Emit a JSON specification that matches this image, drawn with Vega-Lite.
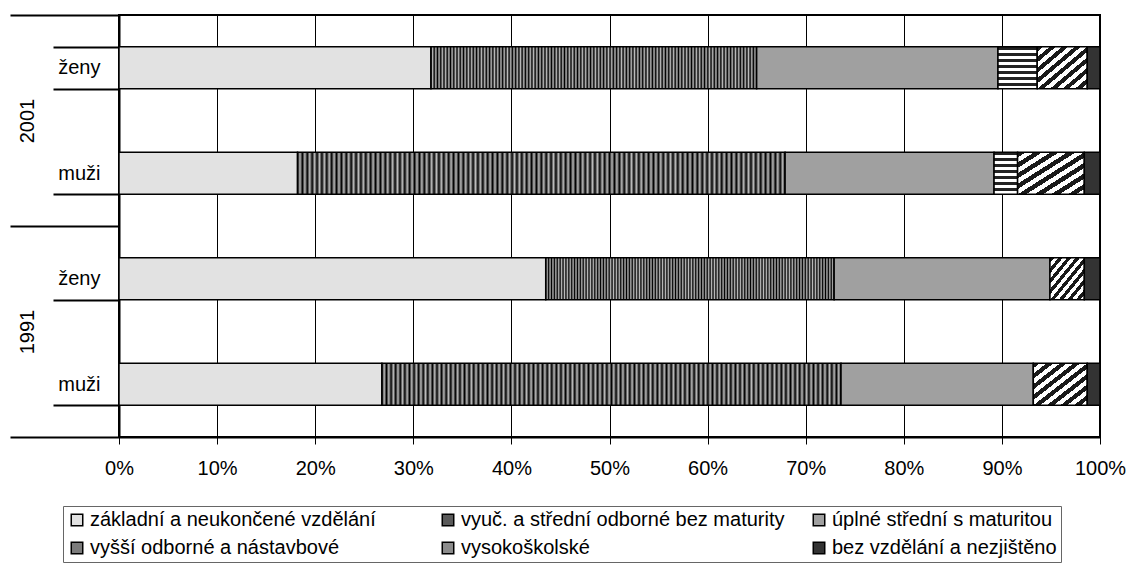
{
  "$schema": "https://vega.github.io/schema/vega-lite/v6.json",
  "width": 981,
  "height": 422,
  "autosize": {"type": "none"},
  "padding": {"left": 119, "top": 15, "right": 31, "bottom": 131},
  "background": "white",
  "config": {"font": "Liberation Sans", "view": {"stroke": "black", "strokeWidth": 2}},
  "data": {
    "values": [
      {"year": "2001", "group": "2001 ženy", "edu": "základní a neukončené vzdělání", "k": 1, "value": 31.8},
      {"year": "2001", "group": "2001 ženy", "edu": "vyuč. a střední odborné bez maturity", "k": 2, "value": 33.2},
      {"year": "2001", "group": "2001 ženy", "edu": "úplné střední s maturitou", "k": 3, "value": 24.6},
      {"year": "2001", "group": "2001 ženy", "edu": "vyšší odborné a nástavbové", "k": 4, "value": 4.0},
      {"year": "2001", "group": "2001 ženy", "edu": "vysokoškolské", "k": 5, "value": 5.1},
      {"year": "2001", "group": "2001 ženy", "edu": "bez vzdělání a nezjištěno", "k": 6, "value": 1.3},
      {"year": "2001", "group": "2001 muži", "edu": "základní a neukončené vzdělání", "k": 1, "value": 18.2},
      {"year": "2001", "group": "2001 muži", "edu": "vyuč. a střední odborné bez maturity", "k": 2, "value": 49.7},
      {"year": "2001", "group": "2001 muži", "edu": "úplné střední s maturitou", "k": 3, "value": 21.3},
      {"year": "2001", "group": "2001 muži", "edu": "vyšší odborné a nástavbové", "k": 4, "value": 2.4},
      {"year": "2001", "group": "2001 muži", "edu": "vysokoškolské", "k": 5, "value": 6.8},
      {"year": "2001", "group": "2001 muži", "edu": "bez vzdělání a nezjištěno", "k": 6, "value": 1.6},
      {"year": "1991", "group": "1991 ženy", "edu": "základní a neukončené vzdělání", "k": 1, "value": 43.5},
      {"year": "1991", "group": "1991 ženy", "edu": "vyuč. a střední odborné bez maturity", "k": 2, "value": 29.4},
      {"year": "1991", "group": "1991 ženy", "edu": "úplné střední s maturitou", "k": 3, "value": 22.0},
      {"year": "1991", "group": "1991 ženy", "edu": "vysokoškolské", "k": 5, "value": 3.5},
      {"year": "1991", "group": "1991 ženy", "edu": "bez vzdělání a nezjištěno", "k": 6, "value": 1.6},
      {"year": "1991", "group": "1991 muži", "edu": "základní a neukončené vzdělání", "k": 1, "value": 26.8},
      {"year": "1991", "group": "1991 muži", "edu": "vyuč. a střední odborné bez maturity", "k": 2, "value": 46.8},
      {"year": "1991", "group": "1991 muži", "edu": "úplné střední s maturitou", "k": 3, "value": 19.6},
      {"year": "1991", "group": "1991 muži", "edu": "vysokoškolské", "k": 5, "value": 5.5},
      {"year": "1991", "group": "1991 muži", "edu": "bez vzdělání a nezjištěno", "k": 6, "value": 1.3}
    ]
  },
  "layer": [
    {
      "mark": {"type": "bar", "stroke": "black", "strokeWidth": 1.5},
      "encoding": {
        "y": {
          "field": "group", "type": "nominal",
          "sort": ["2001 ženy", "2001 muži", "1991 ženy", "1991 muži"],
          "scale": {"paddingInner": 0.6, "paddingOuter": 0.3},
          "axis": {
            "orient": "left", "title": null,
            "labelExpr": "split(datum.label, ' ')[1]",
            "labelFontSize": 20, "labelColor": "black", "labelPadding": -47,
            "ticks": true, "tickBand": "extent", "tickSize": 66, "tickWidth": 2, "tickColor": "black",
            "domainColor": "black", "domainWidth": 2
          }
        },
        "x": {
          "field": "value", "type": "quantitative", "stack": "normalize",
          "scale": {"domain": [0, 1]},
          "axis": {
            "title": null, "format": ".0%",
            "values": [0, 0.1, 0.2, 0.3, 0.4, 0.5, 0.6, 0.7, 0.8, 0.9, 1],
            "grid": true, "gridColor": "black", "gridWidth": 1,
            "tickSize": 7, "tickColor": "black", "tickWidth": 1,
            "domainColor": "black", "domainWidth": 2, "labelFlush": false,
            "labelFontSize": 20, "labelColor": "black", "labelPadding": 14
          }
        },
        "color": {
          "condition": [
            {
              "test": "datum.edu === 'vyuč. a střední odborné bez maturity'",
              "value": {
                "gradient": "linear", "x1": 0, "y1": 0, "x2": 1, "y2": 0,
                "stops": [
                  {"offset": 0, "color": "#000"}, {"offset": 0.005, "color": "#bbb"}, {"offset": 0.01, "color": "#000"}, {"offset": 0.015, "color": "#bbb"}, {"offset": 0.02, "color": "#000"}, {"offset": 0.025, "color": "#bbb"}, {"offset": 0.03, "color": "#000"}, {"offset": 0.035, "color": "#bbb"}, {"offset": 0.04, "color": "#000"}, {"offset": 0.045, "color": "#bbb"},
                  {"offset": 0.05, "color": "#000"}, {"offset": 0.055, "color": "#bbb"}, {"offset": 0.06, "color": "#000"}, {"offset": 0.065, "color": "#bbb"}, {"offset": 0.07, "color": "#000"}, {"offset": 0.075, "color": "#bbb"}, {"offset": 0.08, "color": "#000"}, {"offset": 0.085, "color": "#bbb"}, {"offset": 0.09, "color": "#000"}, {"offset": 0.095, "color": "#bbb"},
                  {"offset": 0.1, "color": "#000"}, {"offset": 0.105, "color": "#bbb"}, {"offset": 0.11, "color": "#000"}, {"offset": 0.115, "color": "#bbb"}, {"offset": 0.12, "color": "#000"}, {"offset": 0.125, "color": "#bbb"}, {"offset": 0.13, "color": "#000"}, {"offset": 0.135, "color": "#bbb"}, {"offset": 0.14, "color": "#000"}, {"offset": 0.145, "color": "#bbb"},
                  {"offset": 0.15, "color": "#000"}, {"offset": 0.155, "color": "#bbb"}, {"offset": 0.16, "color": "#000"}, {"offset": 0.165, "color": "#bbb"}, {"offset": 0.17, "color": "#000"}, {"offset": 0.175, "color": "#bbb"}, {"offset": 0.18, "color": "#000"}, {"offset": 0.185, "color": "#bbb"}, {"offset": 0.19, "color": "#000"}, {"offset": 0.195, "color": "#bbb"},
                  {"offset": 0.2, "color": "#000"}, {"offset": 0.205, "color": "#bbb"}, {"offset": 0.21, "color": "#000"}, {"offset": 0.215, "color": "#bbb"}, {"offset": 0.22, "color": "#000"}, {"offset": 0.225, "color": "#bbb"}, {"offset": 0.23, "color": "#000"}, {"offset": 0.235, "color": "#bbb"}, {"offset": 0.24, "color": "#000"}, {"offset": 0.245, "color": "#bbb"},
                  {"offset": 0.25, "color": "#000"}, {"offset": 0.255, "color": "#bbb"}, {"offset": 0.26, "color": "#000"}, {"offset": 0.265, "color": "#bbb"}, {"offset": 0.27, "color": "#000"}, {"offset": 0.275, "color": "#bbb"}, {"offset": 0.28, "color": "#000"}, {"offset": 0.285, "color": "#bbb"}, {"offset": 0.29, "color": "#000"}, {"offset": 0.295, "color": "#bbb"},
                  {"offset": 0.3, "color": "#000"}, {"offset": 0.305, "color": "#bbb"}, {"offset": 0.31, "color": "#000"}, {"offset": 0.315, "color": "#bbb"}, {"offset": 0.32, "color": "#000"}, {"offset": 0.325, "color": "#bbb"}, {"offset": 0.33, "color": "#000"}, {"offset": 0.335, "color": "#bbb"}, {"offset": 0.34, "color": "#000"}, {"offset": 0.345, "color": "#bbb"},
                  {"offset": 0.35, "color": "#000"}, {"offset": 0.355, "color": "#bbb"}, {"offset": 0.36, "color": "#000"}, {"offset": 0.365, "color": "#bbb"}, {"offset": 0.37, "color": "#000"}, {"offset": 0.375, "color": "#bbb"}, {"offset": 0.38, "color": "#000"}, {"offset": 0.385, "color": "#bbb"}, {"offset": 0.39, "color": "#000"}, {"offset": 0.395, "color": "#bbb"},
                  {"offset": 0.4, "color": "#000"}, {"offset": 0.405, "color": "#bbb"}, {"offset": 0.41, "color": "#000"}, {"offset": 0.415, "color": "#bbb"}, {"offset": 0.42, "color": "#000"}, {"offset": 0.425, "color": "#bbb"}, {"offset": 0.43, "color": "#000"}, {"offset": 0.435, "color": "#bbb"}, {"offset": 0.44, "color": "#000"}, {"offset": 0.445, "color": "#bbb"},
                  {"offset": 0.45, "color": "#000"}, {"offset": 0.455, "color": "#bbb"}, {"offset": 0.46, "color": "#000"}, {"offset": 0.465, "color": "#bbb"}, {"offset": 0.47, "color": "#000"}, {"offset": 0.475, "color": "#bbb"}, {"offset": 0.48, "color": "#000"}, {"offset": 0.485, "color": "#bbb"}, {"offset": 0.49, "color": "#000"}, {"offset": 0.495, "color": "#bbb"},
                  {"offset": 0.5, "color": "#000"}, {"offset": 0.505, "color": "#bbb"}, {"offset": 0.51, "color": "#000"}, {"offset": 0.515, "color": "#bbb"}, {"offset": 0.52, "color": "#000"}, {"offset": 0.525, "color": "#bbb"}, {"offset": 0.53, "color": "#000"}, {"offset": 0.535, "color": "#bbb"}, {"offset": 0.54, "color": "#000"}, {"offset": 0.545, "color": "#bbb"},
                  {"offset": 0.55, "color": "#000"}, {"offset": 0.555, "color": "#bbb"}, {"offset": 0.56, "color": "#000"}, {"offset": 0.565, "color": "#bbb"}, {"offset": 0.57, "color": "#000"}, {"offset": 0.575, "color": "#bbb"}, {"offset": 0.58, "color": "#000"}, {"offset": 0.585, "color": "#bbb"}, {"offset": 0.59, "color": "#000"}, {"offset": 0.595, "color": "#bbb"},
                  {"offset": 0.6, "color": "#000"}, {"offset": 0.605, "color": "#bbb"}, {"offset": 0.61, "color": "#000"}, {"offset": 0.615, "color": "#bbb"}, {"offset": 0.62, "color": "#000"}, {"offset": 0.625, "color": "#bbb"}, {"offset": 0.63, "color": "#000"}, {"offset": 0.635, "color": "#bbb"}, {"offset": 0.64, "color": "#000"}, {"offset": 0.645, "color": "#bbb"},
                  {"offset": 0.65, "color": "#000"}, {"offset": 0.655, "color": "#bbb"}, {"offset": 0.66, "color": "#000"}, {"offset": 0.665, "color": "#bbb"}, {"offset": 0.67, "color": "#000"}, {"offset": 0.675, "color": "#bbb"}, {"offset": 0.68, "color": "#000"}, {"offset": 0.685, "color": "#bbb"}, {"offset": 0.69, "color": "#000"}, {"offset": 0.695, "color": "#bbb"},
                  {"offset": 0.7, "color": "#000"}, {"offset": 0.705, "color": "#bbb"}, {"offset": 0.71, "color": "#000"}, {"offset": 0.715, "color": "#bbb"}, {"offset": 0.72, "color": "#000"}, {"offset": 0.725, "color": "#bbb"}, {"offset": 0.73, "color": "#000"}, {"offset": 0.735, "color": "#bbb"}, {"offset": 0.74, "color": "#000"}, {"offset": 0.745, "color": "#bbb"},
                  {"offset": 0.75, "color": "#000"}, {"offset": 0.755, "color": "#bbb"}, {"offset": 0.76, "color": "#000"}, {"offset": 0.765, "color": "#bbb"}, {"offset": 0.77, "color": "#000"}, {"offset": 0.775, "color": "#bbb"}, {"offset": 0.78, "color": "#000"}, {"offset": 0.785, "color": "#bbb"}, {"offset": 0.79, "color": "#000"}, {"offset": 0.795, "color": "#bbb"},
                  {"offset": 0.8, "color": "#000"}, {"offset": 0.805, "color": "#bbb"}, {"offset": 0.81, "color": "#000"}, {"offset": 0.815, "color": "#bbb"}, {"offset": 0.82, "color": "#000"}, {"offset": 0.825, "color": "#bbb"}, {"offset": 0.83, "color": "#000"}, {"offset": 0.835, "color": "#bbb"}, {"offset": 0.84, "color": "#000"}, {"offset": 0.845, "color": "#bbb"},
                  {"offset": 0.85, "color": "#000"}, {"offset": 0.855, "color": "#bbb"}, {"offset": 0.86, "color": "#000"}, {"offset": 0.865, "color": "#bbb"}, {"offset": 0.87, "color": "#000"}, {"offset": 0.875, "color": "#bbb"}, {"offset": 0.88, "color": "#000"}, {"offset": 0.885, "color": "#bbb"}, {"offset": 0.89, "color": "#000"}, {"offset": 0.895, "color": "#bbb"},
                  {"offset": 0.9, "color": "#000"}, {"offset": 0.905, "color": "#bbb"}, {"offset": 0.91, "color": "#000"}, {"offset": 0.915, "color": "#bbb"}, {"offset": 0.92, "color": "#000"}, {"offset": 0.925, "color": "#bbb"}, {"offset": 0.93, "color": "#000"}, {"offset": 0.935, "color": "#bbb"}, {"offset": 0.94, "color": "#000"}, {"offset": 0.945, "color": "#bbb"},
                  {"offset": 0.95, "color": "#000"}, {"offset": 0.955, "color": "#bbb"}, {"offset": 0.96, "color": "#000"}, {"offset": 0.965, "color": "#bbb"}, {"offset": 0.97, "color": "#000"}, {"offset": 0.975, "color": "#bbb"}, {"offset": 0.98, "color": "#000"}, {"offset": 0.985, "color": "#bbb"}, {"offset": 0.99, "color": "#000"}, {"offset": 0.995, "color": "#bbb"},
                  {"offset": 1, "color": "#000"}
                ]
              }
            },
            {
              "test": "datum.edu === 'vyšší odborné a nástavbové'",
              "value": {
                "gradient": "linear", "x1": 0, "y1": 0, "x2": 0, "y2": 1,
                "stops": [
                  {"offset": 0, "color": "#222222"}, {"offset": 0.0714, "color": "#222222"},
                  {"offset": 0.0714, "color": "#ffffff"}, {"offset": 0.1429, "color": "#ffffff"},
                  {"offset": 0.1429, "color": "#222222"}, {"offset": 0.2143, "color": "#222222"},
                  {"offset": 0.2143, "color": "#ffffff"}, {"offset": 0.2857, "color": "#ffffff"},
                  {"offset": 0.2857, "color": "#222222"}, {"offset": 0.3571, "color": "#222222"},
                  {"offset": 0.3571, "color": "#ffffff"}, {"offset": 0.4286, "color": "#ffffff"},
                  {"offset": 0.4286, "color": "#222222"}, {"offset": 0.5, "color": "#222222"},
                  {"offset": 0.5, "color": "#ffffff"}, {"offset": 0.5714, "color": "#ffffff"},
                  {"offset": 0.5714, "color": "#222222"}, {"offset": 0.6429, "color": "#222222"},
                  {"offset": 0.6429, "color": "#ffffff"}, {"offset": 0.7143, "color": "#ffffff"},
                  {"offset": 0.7143, "color": "#222222"}, {"offset": 0.7857, "color": "#222222"},
                  {"offset": 0.7857, "color": "#ffffff"}, {"offset": 0.8571, "color": "#ffffff"},
                  {"offset": 0.8571, "color": "#222222"}, {"offset": 0.9286, "color": "#222222"},
                  {"offset": 0.9286, "color": "#ffffff"}, {"offset": 1, "color": "#ffffff"}
                ]
              }
            },
            {
              "test": "datum.edu === 'vysokoškolské'",
              "value": {
                "gradient": "linear", "x1": 0, "y1": 0, "x2": 1, "y2": 1,
                "stops": [
                  {"offset": 0, "color": "#1a1a1a"}, {"offset": 0.0625, "color": "#1a1a1a"},
                  {"offset": 0.0625, "color": "#ffffff"}, {"offset": 0.125, "color": "#ffffff"},
                  {"offset": 0.125, "color": "#1a1a1a"}, {"offset": 0.1875, "color": "#1a1a1a"},
                  {"offset": 0.1875, "color": "#ffffff"}, {"offset": 0.25, "color": "#ffffff"},
                  {"offset": 0.25, "color": "#1a1a1a"}, {"offset": 0.3125, "color": "#1a1a1a"},
                  {"offset": 0.3125, "color": "#ffffff"}, {"offset": 0.375, "color": "#ffffff"},
                  {"offset": 0.375, "color": "#1a1a1a"}, {"offset": 0.4375, "color": "#1a1a1a"},
                  {"offset": 0.4375, "color": "#ffffff"}, {"offset": 0.5, "color": "#ffffff"},
                  {"offset": 0.5, "color": "#1a1a1a"}, {"offset": 0.5625, "color": "#1a1a1a"},
                  {"offset": 0.5625, "color": "#ffffff"}, {"offset": 0.625, "color": "#ffffff"},
                  {"offset": 0.625, "color": "#1a1a1a"}, {"offset": 0.6875, "color": "#1a1a1a"},
                  {"offset": 0.6875, "color": "#ffffff"}, {"offset": 0.75, "color": "#ffffff"},
                  {"offset": 0.75, "color": "#1a1a1a"}, {"offset": 0.8125, "color": "#1a1a1a"},
                  {"offset": 0.8125, "color": "#ffffff"}, {"offset": 0.875, "color": "#ffffff"},
                  {"offset": 0.875, "color": "#1a1a1a"}, {"offset": 0.9375, "color": "#1a1a1a"},
                  {"offset": 0.9375, "color": "#ffffff"}, {"offset": 1, "color": "#ffffff"}
                ]
              }
            }
          ],
          "field": "edu", "type": "nominal",
          "scale": {
            "domain": ["základní a neukončené vzdělání", "vyuč. a střední odborné bez maturity", "úplné střední s maturitou", "vyšší odborné a nástavbové", "vysokoškolské", "bez vzdělání a nezjištěno"],
            "range": ["#e2e2e2", "#5a5a5a", "#a0a0a0", "#7c7c7c", "#8c8c8c", "#333333"]
          },
          "legend": {
            "title": null, "orient": "none", "legendX": -56, "legendY": 491,
            "columns": 3, "gridAlign": "all", "direction": "horizontal",
            "symbolType": "square", "symbolSize": 132, "symbolStrokeColor": "black", "symbolStrokeWidth": 1.5,
            "labelFontSize": 20, "labelColor": "black", "labelLimit": 600, "labelOffset": 3,
            "columnPadding": 24, "rowPadding": 8, "padding": 4, "strokeColor": "#666666"
          }
        },
        "order": {"field": "k", "type": "quantitative"}
      }
    },
    {
      "mark": {"type": "rule", "opacity": 0},
      "encoding": {
        "y": {
          "field": "year", "type": "nominal", "sort": ["2001", "1991"],
          "scale": {"paddingInner": 0, "paddingOuter": 0},
          "axis": {
            "orient": "left", "title": null, "domain": false,
            "tickBand": "extent", "tickSize": 109, "tickWidth": 2, "tickColor": "black",
            "labelAngle": 270, "labelFontSize": 20, "labelColor": "black",
            "labelPadding": -17, "labelBaseline": "middle", "labelAlign": "center"
          }
        }
      }
    }
  ],
  "resolve": {"scale": {"y": "independent"}, "axis": {"y": "independent"}}
}
